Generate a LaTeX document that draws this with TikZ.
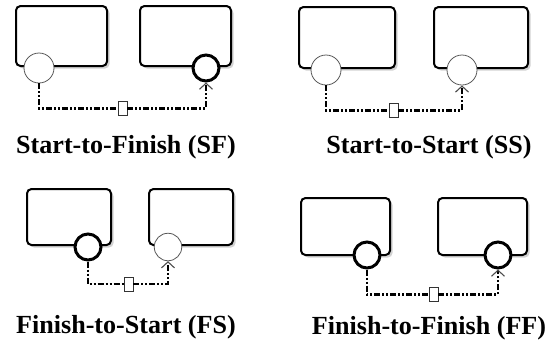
\documentclass[tikz,border=0pt]{standalone}
\usepackage{fontspec}
\setmainfont{Liberation Serif}
\usetikzlibrary{arrows.meta,shadows}
\begin{document}
\begin{tikzpicture}[x=1pt,y=-1pt,
  task/.style={draw=black, line width=2pt, rounded corners=4.5pt, fill=white, inner sep=0pt,
    drop shadow={shadow xshift=2.5pt, shadow yshift=-2.5pt, fill=black!22, opacity=0.8}},
  evthin/.style={circle, draw=black!65, line width=0.8pt, fill=white, inner sep=0pt, minimum size=30pt},
  evthick/.style={circle, draw=black, line width=3pt, fill=white, inner sep=0pt, minimum size=26pt},
  evthinS/.style={evthin, minimum size=27.5pt},
  midbox/.style={draw=black!80, line width=0.9pt, fill=white, inner sep=0pt, minimum width=9pt, minimum height=14pt},
  conn/.style={draw=black, line width=2.2pt, dash pattern=on 6pt off 2pt on 2pt off 2pt on 2pt off 2pt},
  connarr/.style={conn, -{Straight Barb[length=6pt, width=13pt, line width=1.1pt, color=black!70]}},
  lbl/.style={anchor=base, inner sep=0pt, font=\bfseries\fontsize{26.1}{30}\selectfont}
]
\useasboundingbox (0,0) rectangle (555,341);

% ---------- Start-to-Finish (SF) ----------
\node[task, minimum width=91pt, minimum height=60pt] (sfA) at (61.5,36) {};
\node[task, minimum width=91pt, minimum height=60pt] (sfB) at (185.5,36) {};
\node[evthin] (sfAc) at (39,68) {};
\node[evthick] (sfBc) at (206,68) {};
\node[midbox] (sfM) at (122.5,108.5) {};
\draw[conn] (sfAc.south) |- (sfM.west);
\draw[connarr] (sfM.east) -| (sfBc.south);
\node[lbl] (sfL) at (126,153) {Start-to-Finish (SF)};

% ---------- Start-to-Start (SS) ----------
\node[task, minimum width=96pt, minimum height=61pt] (ssA) at (347,37.5) {};
\node[task, minimum width=94pt, minimum height=61pt] (ssB) at (481,37.5) {};
\node[evthin] (ssAc) at (326,70) {};
\node[evthin] (ssBc) at (462,70) {};
\node[midbox] (ssM) at (393.5,110.5) {};
\draw[conn] (ssAc.south) |- (ssM.west);
\draw[connarr] (ssM.east) -| (ssBc.south);
\node[lbl] (ssL) at (429,153) {Start-to-Start (SS)};

% ---------- Finish-to-Start (FS) ----------
\node[task, minimum width=84pt, minimum height=56pt] (fsA) at (69,217) {};
\node[task, minimum width=84pt, minimum height=56pt] (fsB) at (191,217) {};
\node[evthick] (fsAc) at (88,247) {};
\node[evthinS] (fsBc) at (168,247) {};
\node[midbox] (fsM) at (128.5,284) {};
\draw[conn] (fsAc.south) |- (fsM.west);
\draw[connarr] (fsM.east) -| (fsBc.south);
\node[lbl] (fsL) at (126,333) {Finish-to-Start (FS)};

% ---------- Finish-to-Finish (FF) ----------
\node[task, minimum width=89pt, minimum height=57pt] (ffA) at (345.5,226.5) {};
\node[task, minimum width=89pt, minimum height=57pt] (ffB) at (482.5,226.5) {};
\node[evthick] (ffAc) at (367,255) {};
\node[evthick] (ffBc) at (498,255) {};
\node[midbox] (ffM) at (433.5,294.5) {};
\draw[conn] (ffAc.south) |- (ffM.west);
\draw[connarr] (ffM.east) -| (ffBc.south);
\node[lbl] (ffL) at (429,334.5) {Finish-to-Finish (FF)};
\end{tikzpicture}
\end{document}
